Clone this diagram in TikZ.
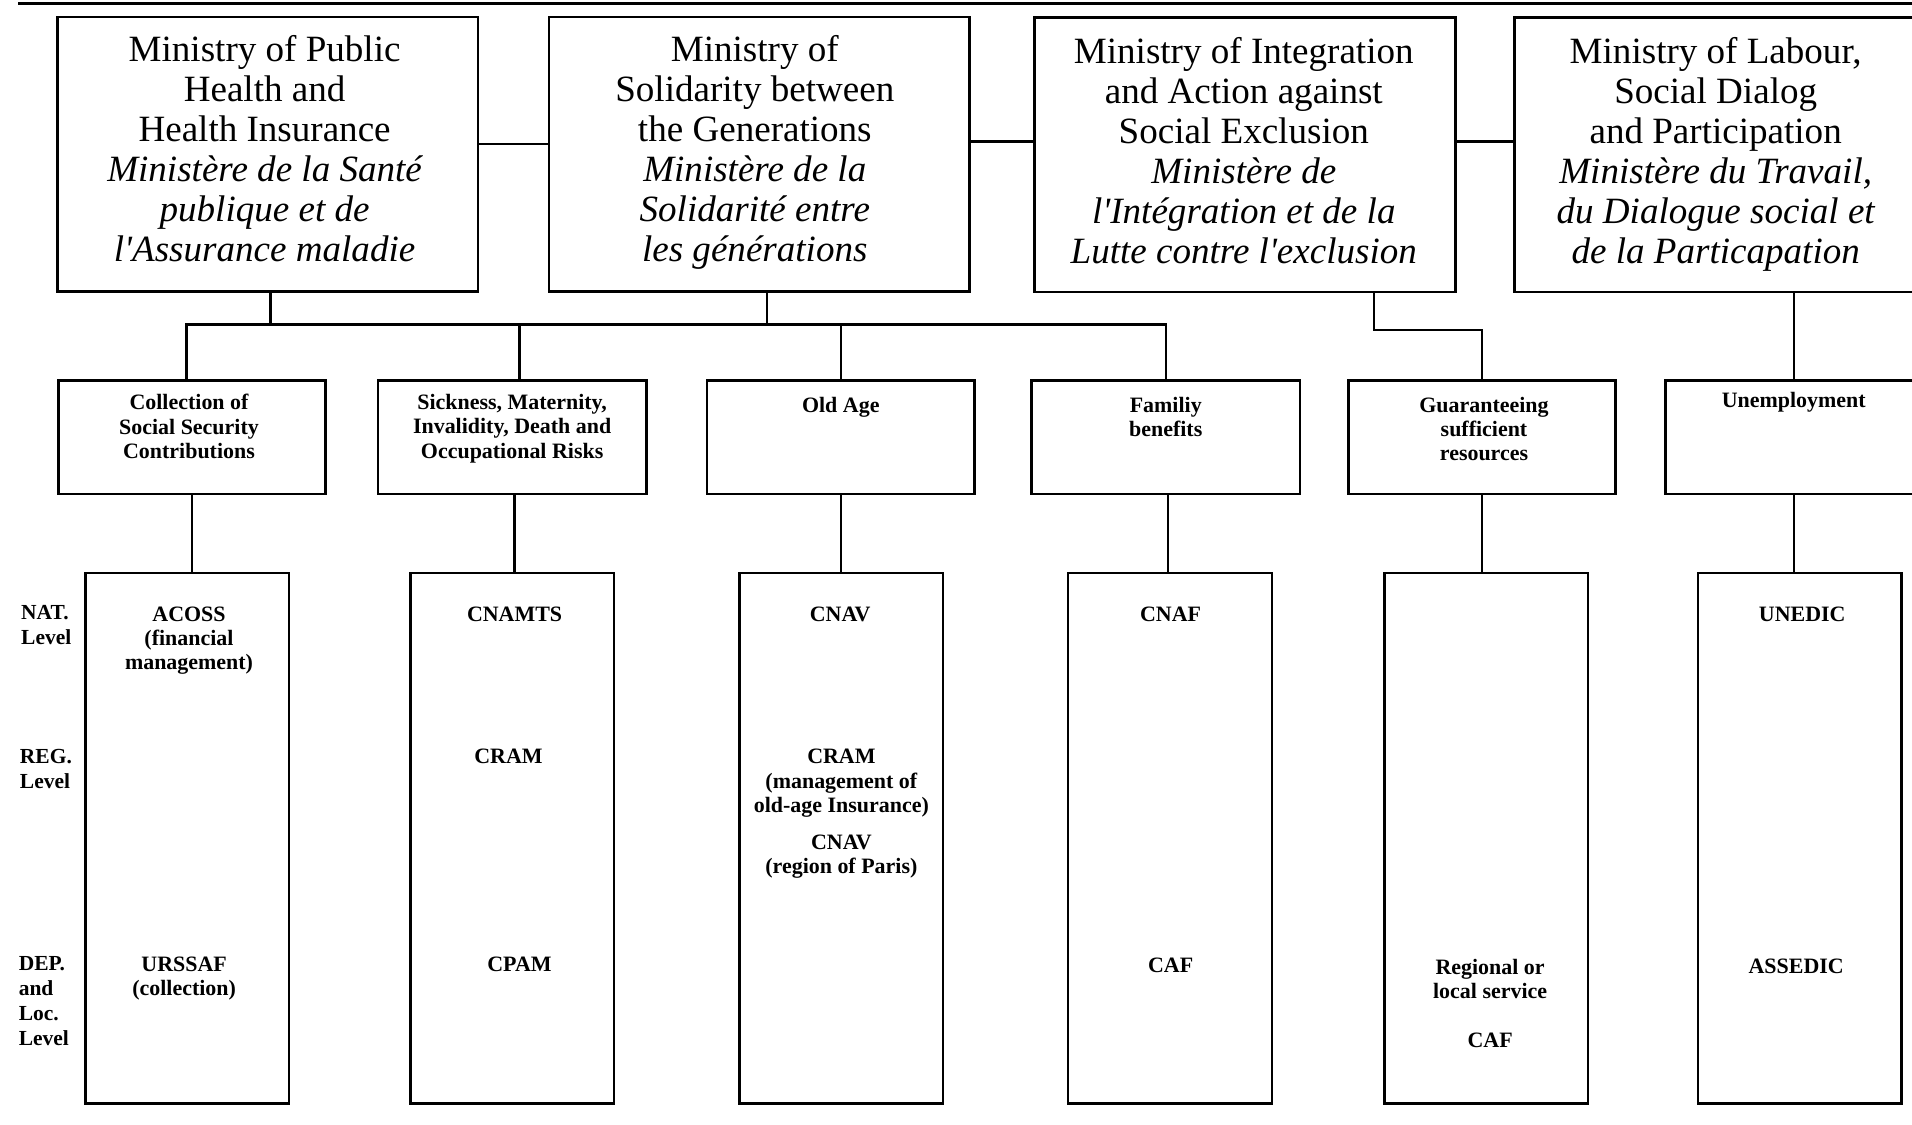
\documentclass[tikz,border=0pt]{standalone}
\usepackage{fontspec}
\setmainfont{Liberation Serif}
\begin{document}
\begin{tikzpicture}[x=0.5pt,y=-0.5pt,
  mbox/.style={draw,line width=1pt,minimum width=172.5pt,minimum height=112.5pt,inner sep=0pt},
  mtxt/.style={anchor=north,inner sep=0pt,align=center,font=\fontsize{15.2}{16.4}\selectfont},
  sbox/.style={draw,line width=1pt,minimum width=109.5pt,minimum height=46.5pt,inner sep=0pt},
  tbox/.style={draw,line width=1pt,minimum width=83.5pt,minimum height=217.5pt,inner sep=0pt},
  txt/.style={anchor=north,inner sep=0pt,align=center,font=\fontsize{9}{10}\selectfont\bfseries},
  lvl/.style={anchor=north west,inner sep=0pt,align=left,font=\fontsize{8.8}{10.2}\selectfont\bfseries},
  conn/.style={line width=1pt}]
\useasboundingbox (0,0) rectangle (1568,921.8);
% top rule
\coordinate (ruleL) at (15,3);
\coordinate (ruleR) at (1568,3);
\draw[line width=1.2pt] (ruleL) -- (ruleR);
% ministries
\node[mbox] (m1) at (219.5,126.5) {};
\node[mbox] (m2) at (622.5,126.5) {};
\node[mbox] (m3) at (1021,127) {};
\node[mbox] (m4) at (1414.5,127) {};
\node[mtxt] (t1) at (217,29) {Ministry of Public\\Health and\\Health Insurance\\\itshape Ministère de la Santé\\\itshape publique et de\\\itshape l\textquotesingle Assurance maladie};
\node[mtxt] (t2) at (619,29) {Ministry of\\Solidarity between\\the Generations\\\itshape Ministère de la\\\itshape Solidarité entre\\\itshape les générations};
\node[mtxt] (t3) at (1020,30) {Ministry of Integration\\and Action against\\Social Exclusion\\\itshape Ministère de\\\itshape l\textquotesingle Intégration et de la\\\itshape Lutte contre l\textquotesingle exclusion};
\node[mtxt] (t4) at (1407,30) {Ministry of Labour,\\Social Dialog\\and Participation\\\itshape Ministère du Travail,\\\itshape du Dialogue social et\\\itshape de la Particapation};
\draw[conn] ([yshift=4.25pt]m1.east) -- ([yshift=4.25pt]m1.east -| m2.west);
\draw[conn] ([yshift=5.25pt]m2.east) -- ([yshift=5.25pt]m2.east -| m3.west);
\draw[conn] ([yshift=5.5pt]m3.east) -- ([yshift=5.5pt]m3.east -| m4.west);
% second level
\node[sbox] (c1) at (157.5,358.5) {};
\node[sbox,minimum width=110pt] (c2) at (420,358.5) {};
\node[sbox] (c3) at (689.5,358.5) {};
\node[sbox,minimum width=110pt] (c4) at (956,358.5) {};
\node[sbox] (c5) at (1215.5,358.5) {};
\node[sbox] (c6) at (1475.5,358.5) {};
\node[txt] at (155,323) {Collection of\\Social Security\\Contributions};
\node[txt] at (420,323) {Sickness, Maternity,\\Invalidity, Death and\\Occupational Risks};
\node[txt] at (689.5,325) {Old Age};
\node[txt] at (956,325) {Familiy\\benefits};
\node[txt] at (1217,325) {Guaranteeing\\sufficient\\resources};
\node[txt] at (1471,321) {Unemployment};
% bus
\coordinate (bus) at (0,266);
\draw[conn] ([xshift=1.25pt]m1.south) -- ([xshift=1.25pt]m1.south |- bus);
\draw[conn] ([xshift=3.25pt]m2.south) -- ([xshift=3.25pt]m2.south |- bus);
\draw[conn] ([xshift=-2.25pt]c1.north) -- ([xshift=-2.25pt]c1.north |- bus) -- (c4.north |- bus) -- (c4.north);
\draw[conn] ([xshift=3pt]c2.north) -- ([xshift=3pt]c2.north |- bus);
\draw[conn] (c3.north) -- (c3.north |- bus);
\draw[conn] ([xshift=53pt]m3.south) -- ++(0,30) -| (c5.north);
\draw[conn] ([xshift=-2.25pt]c6.north) -- ([xshift=-2.25pt]c6.north |- m4.south);
% third level
\node[tbox] (d1) at (153.5,687.5) {};
\node[tbox] (d2) at (420,687.5) {};
\node[tbox] (d3) at (690,687.5) {};
\node[tbox] (d4) at (959.5,687.5) {};
\node[tbox] (d5) at (1219,687.5) {};
\node[tbox] (d6) at (1476,687.5) {};
\draw[conn] (c1.south) -- (c1.south |- d1.north);
\draw[conn] ([xshift=1pt]c2.south) -- ([xshift=1pt]c2.south |- d2.north);
\draw[conn] (c3.south) -- (c3.south |- d3.north);
\draw[conn] ([xshift=1pt]c4.south) -- ([xshift=1pt]c4.south |- d4.north);
\draw[conn] (c5.south) -- (c5.south |- d5.north);
\draw[conn] ([xshift=-2.25pt]c6.south) -- ([xshift=-2.25pt]c6.south |- d6.north);
% level labels
\node[lvl] (lnat) at (17,496) {NAT.\\Level};
\node[lvl] (lreg) at (16,614) {REG.\\Level};
\node[lvl] (ldep) at (15,784) {DEP.\\and\\Loc.\\Level};
% third-level texts
\node[txt] at (155,497) {ACOSS\\(financial\\management)};
\node[txt] at (151,784) {URSSAF\\(collection)};
\node[txt] at (422,497) {CNAMTS};
\node[txt] at (417,614) {CRAM};
\node[txt] at (426,784) {CPAM};
\node[txt] at (689,497) {CNAV};
\node[txt] at (690,614) {CRAM\\(management of\\old-age Insurance)};
\node[txt] at (690,684) {CNAV\\(region of Paris)};
\node[txt] at (960,497) {CNAF};
\node[txt] at (960,785) {CAF};
\node[txt] at (1222,786) {Regional or\\local service};
\node[txt] at (1222,847) {CAF};
\node[txt] at (1478,497) {UNEDIC};
\node[txt] at (1473,786) {ASSEDIC};
\end{tikzpicture}
\end{document}
